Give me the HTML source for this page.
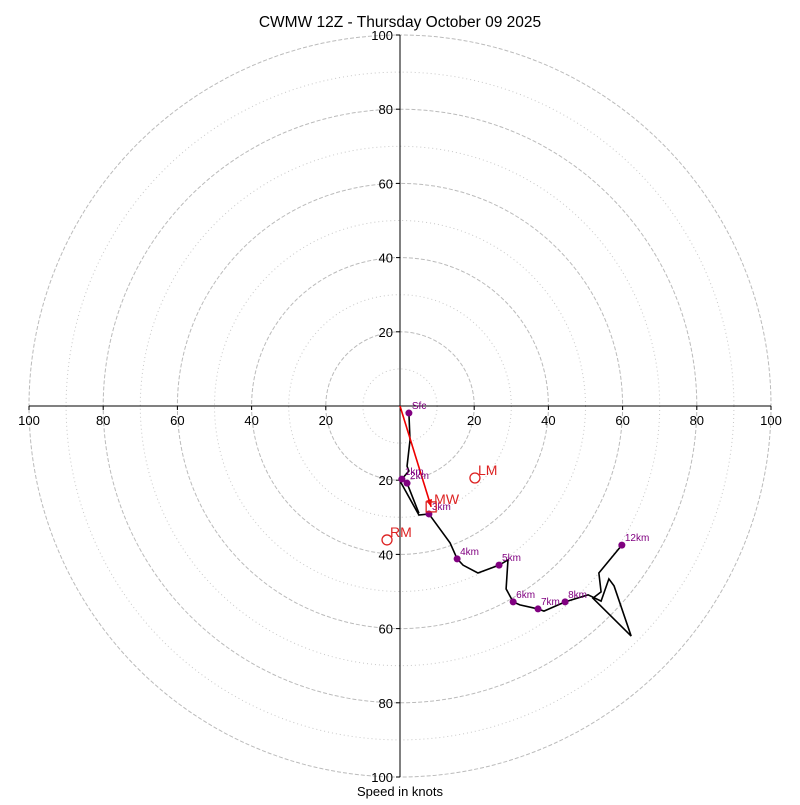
<!DOCTYPE html>
<html><head><meta charset="utf-8"><style>
body{margin:0;background:#fff;font-family:"Liberation Sans","DejaVu Sans",sans-serif}
</style></head><body>
<svg id="chart" width="800" height="800" xmlns="http://www.w3.org/2000/svg" font-family="Liberation Sans, DejaVu Sans, sans-serif">
<text x="400" y="27" text-anchor="middle" font-size="15.5">CWMW 12Z - Thursday October 09 2025</text>
<text x="400" y="796" text-anchor="middle" font-size="13">Speed in knots</text>
<g id="g"></g>
</svg>
<script>
const ringsMajor=[20,40,60,80,100];
const ringsMinor=[10,30,50,70,90];
const tickLabels=["20","40","60","80","100"];
const traceU=[2.4,2.7,1.9,2.4,0.5,0,5.1,7.8,13.5,15.4,17.0,21.0,26.7,29.1,28.6,30.5,32.3,37.2,38.8,44.5,50.7,54.2,56.3,57.7,62.3,52.0,54.2,53.6,59.8];
const traceV=[-1.9,-9.2,-16.2,-17.5,-19.7,-20.2,-29.4,-29.1,-36.9,-41.2,-42.9,-45.0,-42.9,-41.5,-49.3,-52.8,-53.6,-54.7,-55.3,-52.8,-50.9,-52.6,-46.6,-48.5,-62.0,-51.8,-50.1,-45.0,-37.5];
const branchU=[0.5,1.9,5.1];
const branchV=[-19.7,-20.8,-28.9];
const levelNames=["Sfc","1km","2km","3km","4km","5km","6km","7km","8km","12km"];
const levelU=[2.4,0.5,1.9,7.8,15.4,26.7,30.5,37.2,44.5,59.8];
const levelV=[-1.9,-19.7,-20.8,-29.1,-41.2,-42.9,-52.8,-54.7,-52.8,-37.5];
const motionNames=["LM","RM","MW"];
const motionU=[20.2,-3.5,8.4];
const motionV=[-19.4,-36.1,-27.2];

const cx=400,cy=406,k=3.71;
const X=u=>cx+u*k, Y=v=>cy-v*k;
const g=document.getElementById('g');
const NS="http://www.w3.org/2000/svg";
function mk(t,a){const e=document.createElementNS(NS,t);for(const n in a)e.setAttribute(n,a[n]);g.appendChild(e);return e;}

ringsMinor.forEach(r=>{const e=mk('circle',{cx:cx,cy:cy,r:r*k,fill:'none',stroke:'#c8c8c8','stroke-width':1,'stroke-dasharray':'1 3'});

});
ringsMajor.forEach(r=>{const e=mk('circle',{cx:cx,cy:cy,r:r*k,fill:'none',stroke:'#bbb','stroke-width':1,'stroke-dasharray':'4 2'});

});
let ax=mk('line',{x1:X(-100),y1:cy,x2:X(100),y2:cy,stroke:'#000','stroke-width':1});


let ay=mk('line',{x1:cx,y1:Y(100),x2:cx,y2:Y(-100),stroke:'#000','stroke-width':1});


ringsMajor.forEach((r,i)=>{
 [1,-1].forEach(s=>{
  let tk=mk('line',{x1:X(s*r),y1:cy,x2:X(s*r),y2:cy+4,stroke:'#000','stroke-width':1});
  
  
  let tk2=mk('line',{x1:cx-4,y1:Y(s*r),x2:cx,y2:Y(s*r),stroke:'#000','stroke-width':1});
  
  
  let t=mk('text',{x:X(s*r),y:cy+19,'text-anchor':'middle','font-size':13});t.textContent=tickLabels[i];
  
  
  let t2=mk('text',{x:cx-7,y:Y(s*r)+5,'text-anchor':'end','font-size':13});t2.textContent=tickLabels[i];
  
  
 });
});
let pl=mk('polyline',{points:traceU.map((u,i)=>X(u)+','+Y(traceV[i])).join(' '),fill:'none',stroke:'#000','stroke-width':1.6});


let br=mk('polyline',{points:branchU.map((u,i)=>X(u)+','+Y(branchV[i])).join(' '),fill:'none',stroke:'#000','stroke-width':1.6});


const mw=2;
let ar=mk('line',{x1:cx,y1:cy,x2:X(motionU[mw]),y2:Y(motionV[mw]),stroke:'#e00','stroke-width':1.6});


{const ang=Math.atan2(Y(motionV[mw])-cy,X(motionU[mw])-cx),ex=X(motionU[mw]),ey=Y(motionV[mw]);
 const p=[[ex,ey],[ex-8*Math.cos(ang-0.4),ey-8*Math.sin(ang-0.4)],[ex-8*Math.cos(ang+0.4),ey-8*Math.sin(ang+0.4)]];
 let h=mk('polygon',{points:p.map(q=>q.join(',')).join(' '),fill:'#e00'});
 
 }
levelNames.forEach((n,i)=>{
 let d=mk('circle',{cx:X(levelU[i]),cy:Y(levelV[i]),r:3.5,fill:'#800080'});
 
 
 let t=mk('text',{x:X(levelU[i])+3,y:Y(levelV[i])-4,'font-size':10,fill:'#800080'});t.textContent=n;
 
 
});
motionNames.forEach((n,i)=>{
 let m;
 if(n==='MW'){m=mk('rect',{x:X(motionU[i])-5,y:Y(motionV[i])-5,width:10,height:10,fill:'none',stroke:'#d22','stroke-width':1.3});}
 else{m=mk('circle',{cx:X(motionU[i]),cy:Y(motionV[i]),r:5,fill:'none',stroke:'#d22','stroke-width':1.3});}
 
 
 let t=mk('text',{x:X(motionU[i])+3,y:Y(motionV[i])-3,'font-size':14,fill:'#d22'});t.textContent=n;
 
 
});
</script>
</body></html>
